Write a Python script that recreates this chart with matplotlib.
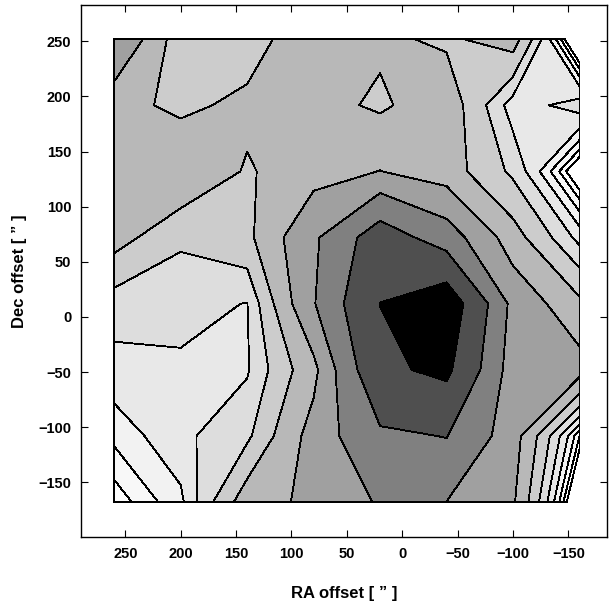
import matplotlib
matplotlib.use("Agg")
import matplotlib.pyplot as plt
import numpy as np

# grid of offsets (arcsec)
ra = [260, 200, 140, 80, 20, -40, -100, -160]
dec = [252, 192, 132, 72, 12, -48, -108, -168]

# intensity, one row per dec value (top to bottom)
row0 = [6.3, 3.4, 3.49, 4.8, 4.16, 3.85, 4.45, 0.0]
row1 = [4.33, 3.78, 4.24, 4.33, 3.85, 4.6, 2.2, 2.8]
row2 = [4.6, 4.88, 3.9, 4.6, 5.06, 4.45, 3.0, 0.5]
row3 = [4.38, 3.3, 3.76, 6.1, 9.0, 7.1, 4.4, 2.3]
row4 = [2.79, 2.7, 2.5, 6.25, 10.1, 11.5, 5.9, 4.2]
row5 = [2.32, 2.43, 2.45, 4.7, 9.7, 10.5, 5.6, 5.5]
row6 = [1.69, 2.37, 3.0, 5.5, 7.7, 8.05, 5.55, 1.26]
row7 = [1.04, 1.87, 4.54, 5.3, 6.49, 6.33, 5.2, 0.0]

levels = [1.0, 1.26, 1.59, 2.0, 2.52, 3.17, 4.0, 5.04, 6.35, 8.0, 10.08, 20.0]
grays = ['#fdfdfd', '#f8f8f8', '#f2f2f2', '#e8e8e8', '#dddddd', '#cccccc',
         '#b8b8b8', '#a0a0a0', '#808080', '#4f4f4f', '#000000']

Z = np.array([row0, row1, row2, row3, row4, row5, row6, row7])

plt.rcParams['font.family'] = ['Liberation Sans', 'DejaVu Sans']
plt.rcParams['font.weight'] = 'bold'

fig = plt.figure(figsize=(6.09, 6.08), dpi=100)
ax = fig.add_axes([0.133, 0.116, 0.864, 0.876])

cs = ax.contourf(ra, dec, Z, levels=levels, colors=grays)
cs.set_edgecolor('k')
cs.set_linewidth(0.6)

ax.set_xlim(290, -185)
ax.set_ylim(-200, 283)
ax.set_xticks([250, 200, 150, 100, 50, 0, -50, -100, -150])
ax.set_yticks([-150, -100, -50, 0, 50, 100, 150, 200, 250])
ax.xaxis.set_major_formatter(plt.FuncFormatter(lambda v, p: f"{v:.0f}".replace('-', '\u2212')))
ax.yaxis.set_major_formatter(plt.FuncFormatter(lambda v, p: f"{v:.0f}".replace('-', '\u2212')))
ax.tick_params(direction='in', top=True, right=True, length=5, width=0.8,
               labelsize=10.5, pad=7)
for sp in ax.spines.values():
    sp.set_linewidth(1.0)

ax.set_xlabel('RA offset [ \u201d ]', fontsize=12, fontweight='bold', labelpad=18)
ax.set_ylabel('Dec offset [ \u201d ]', fontsize=12, fontweight='bold', labelpad=8)

fig.savefig('out.png', dpi=100)
